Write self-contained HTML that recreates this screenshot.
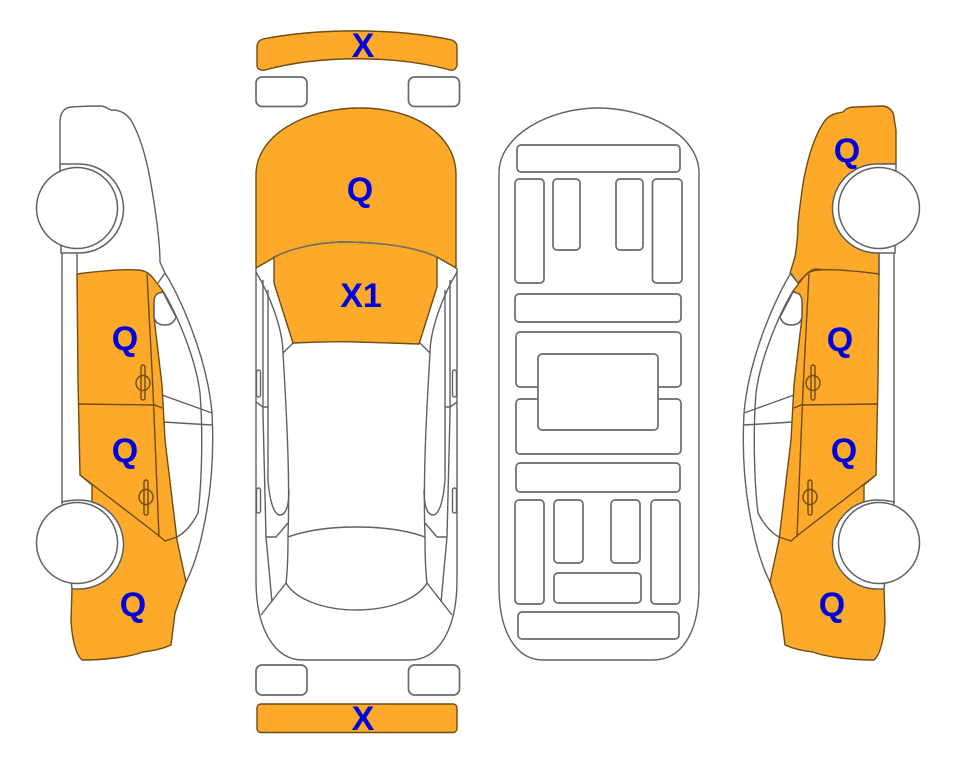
<!DOCTYPE html>
<html><head><meta charset="utf-8"><style>
html,body{margin:0;padding:0;background:#fff}
svg{display:block;filter:blur(.35px)}
text{font-family:"Liberation Sans",sans-serif;font-weight:bold;font-size:34px;fill:#0000dc;text-anchor:middle}
.o{fill:#fdaa2b;stroke:#6e4c14;stroke-width:1.4;stroke-linejoin:round}
.g{fill:none;stroke:#606060;stroke-width:1.4;stroke-linejoin:round}
.w{fill:#fff;stroke:#606060;stroke-width:1.5}
.d{fill:none;stroke:#6e4c14;stroke-width:1.4}
.r{fill:#fff;stroke:#6a6a6a;stroke-width:1.7}
</style></head><body>
<svg width="963" height="768" viewBox="0 0 963 768" xmlns="http://www.w3.org/2000/svg">
<defs>
<g id="side">
<path class="g" d="M165 273C178 293 207 355 212 413C214 450 212 490 203 530C199 550 193 568 186 582"/>
<path class="g" d="M163 291C178 316 196 360 200 393C203 430 202 480 198 513C192 525 184 533 177 537L165 541L159 537"/>
<path class="g" d="M162 395L212 413M163 422L212 425"/>
<path class="g" d="M165 273L158 283"/>
<path class="o" d="M77 274C100 271 125 269 137 270C145 270 150 274 153 278L163 291L156 296C153 300 154 310 154 317L162 385L165 440L177 540L186 582L175 613L171 645C160 650 150 651 143 652C130 657 105 660 82 660C76 655 72 640 71 620L72 589L92 520L92 485L80 475L78 380Z"/>
<path class="w" d="M159 293L163 292L176 317C174 323 170 325 165 325C158 325 154 322 154 315L154 302C154 297 156 294 159 293Z"/>
<path class="d" d="M147 274L153 390L159 537M79 404L155 405L162 408M80 475L158 535L165 541L177 537"/>
<rect class="d" x="141" y="365" width="4" height="35" rx="2"/><ellipse class="d" cx="143" cy="383" rx="7" ry="7.5"/>
<rect class="d" x="144" y="480" width="4" height="35" rx="2"/><ellipse class="d" cx="146" cy="497" rx="7" ry="7.5"/>
<path class="g" d="M62 253V502M77 253V274"/>
<path class="w" d="M60 164H79A44.500 44.500 0 0 1 79 253H61Z"/>
<path class="w" d="M62 502Q70 500 79 500A44.500 44.500 0 0 1 79 589H72Z"/>
<circle class="w" cx="77" cy="208" r="40.5"/>
<circle class="w" cx="77" cy="543" r="40.5"/>
</g>
<g id="tophalf">
<path class="g" d="M256 268V580C256 630 275 660 303 660H356.5"/>
<path class="g" d="M256 272C270 295 283 330 283 353C287 420 290 480 288 537C288 560 287 575 286 583C296 600 325 610 356.5 610"/>
<path class="g" d="M263 280V413L266 537L272 602M268 290V480C270 505 275 515 280 515C286 515 289 505 289 490"/>
<path class="g" d="M266 537H276L288 523M261 615L286 583M283 353L293 343M288 537C310 529 335 527 356.5 527"/>
<path class="g" d="M256 402L263 407H268"/>
<rect class="g" x="256.500" y="370" width="4" height="27" rx="2"/>
<rect class="g" x="256.500" y="488" width="4" height="25" rx="2"/>
</g>
</defs>

<path class="o" d="M263 39C320 28 395 28 452 40Q457 42 457 47V65Q456 71 450 70C395 55 320 55 265 70Q257 71 257 65V47Q257 41 263 39Z"/>
<rect class="r" x="256" y="77" width="51" height="29.500" rx="6"/>
<rect class="r" x="408.500" y="77" width="51" height="29.500" rx="6"/>
<rect class="r" x="256" y="665" width="51" height="30" rx="6"/>
<rect class="r" x="408.500" y="665" width="51" height="30" rx="6"/>
<rect class="o" x="257" y="704" width="200" height="28.500" rx="4"/>

<use href="#tophalf"/>
<use href="#tophalf" transform="translate(713 0) scale(-1 1)"/>
<path class="o" d="M256 268V175C256 135 305 108 360 108C415 108 456 135 456 175V268L437 257C410 245 375 242 340 242C315 243 290 249 275 257Z"/>
<path class="o" d="M274 257V283L293 343C320 342 340 341 357 342L419 344L437 287V257C410 245 375 242 340 242C315 243 290 249 274 257Z"/>
<path fill="none" stroke="#6f7070" stroke-width="1.4" d="M275 257C290 249 315 243 340 242C375 242 410 245 437 257"/>

<path class="g" d="M499 173C499 135 550 108 598 108C648 108 699 135 699 173V587C699 635 680 660 653 660H543C518 660 499 635 499 587Z"/>
<rect class="r" x="517" y="145" width="163" height="27" rx="4"/>
<rect class="r" x="515" y="179" width="29" height="104" rx="4"/>
<rect class="r" x="553" y="179" width="27" height="71" rx="4"/>
<rect class="r" x="616" y="179" width="27" height="71" rx="4"/>
<rect class="r" x="652.500" y="179" width="29.500" height="104" rx="4"/>
<rect class="r" x="515" y="294" width="166" height="28" rx="4"/>
<rect class="r" x="516" y="332" width="165" height="55" rx="4"/>
<rect class="r" x="516" y="399" width="165" height="55" rx="4"/>
<rect class="r" x="538" y="354" width="120" height="76" rx="4"/>
<rect class="r" x="516" y="463" width="164" height="29" rx="4"/>
<rect class="r" x="515" y="500" width="29" height="104" rx="4"/>
<rect class="r" x="554" y="500" width="29" height="63" rx="4"/>
<rect class="r" x="611" y="500" width="29" height="63" rx="4"/>
<rect class="r" x="651" y="500" width="29" height="104" rx="4"/>
<rect class="r" x="554" y="573" width="87" height="30" rx="4"/>
<rect class="r" x="518" y="612" width="161" height="27" rx="4"/>

<path class="g" d="M60 164V122C60 112 65 107 72 107C85 106 95 106 100 106C107 106 108 110 112 110C122 110 128 115 132 122C142 140 148 165 152 190C157 220 160 245 160 262L165 273"/>
<use href="#side"/>

<path class="o" d="M790 273L795 257C797 245 798 235 798 223C800 205 802 190 804 178C808 158 813 140 822 125C826 118 832 114 838 113L843 112C846 108 850 107 856 107L883 106C890 107 894 112 894 118L896 130V164H877V253H879V275L815 269C810 270 806 274 798 283Z"/>
<use href="#side" transform="translate(956 0) scale(-1 1)"/>

<text x="363" y="57">X</text>
<text x="360" y="201">Q</text>
<text x="361" y="307">X1</text>
<text x="363" y="730">X</text>
<text x="125" y="350">Q</text>
<text x="125" y="462">Q</text>
<text x="133" y="616">Q</text>
<text x="847" y="162">Q</text>
<text x="840" y="351">Q</text>
<text x="844" y="462">Q</text>
<text x="832" y="616">Q</text>
</svg>
</body></html>
